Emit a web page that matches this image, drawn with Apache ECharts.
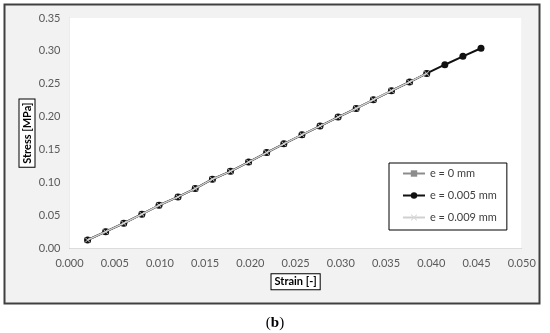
<!DOCTYPE html>
<html><head><meta charset="utf-8">
<script src="https://cdn.jsdelivr.net/npm/echarts@6/dist/echarts.min.js"></script>
<style>html,body{margin:0;padding:0;background:#fff}#c{width:550px;height:333px}</style>
</head><body><div id="c"></div>
<script>
var strain = [0.0020,0.0040,0.0060,0.0080,0.0099,0.0120,0.0139,0.0158,0.0178,0.0198,0.0218,0.0237,0.0257,0.0277,0.0297,0.0317,0.0336,0.0356,0.0376,0.0395,0.0415,0.0435,0.0455];
var stressE0 = [0.0126,0.0253,0.0381,0.0518,0.0654,0.0781,0.0907,0.1050,0.1170,0.1310,0.1455,0.1588,0.1725,0.1857,0.1994,0.2125,0.2257,0.2394,0.2527,0.2658];
var stressE005 = [0.0126,0.0253,0.0381,0.0518,0.0654,0.0781,0.0907,0.1050,0.1170,0.1310,0.1455,0.1588,0.1725,0.1857,0.1994,0.2125,0.2257,0.2394,0.2527,0.2658,0.2790,0.2917,0.3040];
var stressE009 = [0.0126,0.0253,0.0381,0.0518,0.0654,0.0781,0.0907,0.1050,0.1170,0.1310,0.1455,0.1588,0.1725,0.1857,0.1994,0.2125,0.2257,0.2394,0.2527,0.2658];
var seriesNames = ['e = 0 mm','e = 0.005 mm','e = 0.009 mm'];
var xTicks = {min:0, max:0.05, interval:0.005};
var yTicks = {min:0, max:0.35, interval:0.05};

function pairs(xs, ys){ return ys.map(function(v,i){ return [xs[i], v]; }); }
var FONT = 'Lato';
var chart = echarts.init(document.getElementById('c'));
chart.setOption({
  backgroundColor:'#ffffff',
  animation:false,
  graphic:[
    {type:'rect', z:-10, shape:{x:4.5,y:4.5,width:535,height:299}, style:{fill:'#f2f2f2',stroke:'#404040',lineWidth:2}},
    {type:'text', left:'center', top:316, style:{text:'{a|(}{b|b}{a|)}', rich:{a:{fontFamily:'Liberation Serif',fontSize:15,fill:'#000'},b:{fontFamily:'Liberation Serif',fontSize:15,fontWeight:'bold',fill:'#000'}}}}
  ],
  grid:{left:69.5,right:28.3,top:18,bottom:84.7,show:true,backgroundColor:'#ffffff',borderWidth:0,z:2},
  legend:{
    orient:'vertical', left:389, top:163,
    backgroundColor:'#ffffff', borderColor:'#000', borderWidth:1,
    padding:[5,10,7,13], itemGap:11, itemWidth:22, itemHeight:8,
    textStyle:{fontFamily:FONT,fontSize:11,color:'#404040'},
    data:seriesNames
  },
  xAxis:{
    type:'value', min:xTicks.min, max:xTicks.max, interval:xTicks.interval,
    name:'Strain [-]', nameLocation:'middle', nameGap:26, nameMoveOverlap:false,
    nameTextStyle:{fontFamily:FONT,fontSize:11,fontWeight:'bold',color:'#000',borderColor:'#000',borderWidth:1,padding:[2,3,2,3],backgroundColor:'#fff'},
    axisLine:{show:true,lineStyle:{color:'#d0d0d0',width:1}},
    axisTick:{show:false},
    axisLabel:{fontFamily:FONT,fontSize:11,color:'#595959',margin:10,formatter:function(v){return v.toFixed(3);}},
    splitLine:{show:true,lineStyle:{color:'#d9d9d9',width:1}}
  },
  yAxis:{
    type:'value', min:yTicks.min, max:yTicks.max, interval:yTicks.interval,
    name:'Stress [MPa]', nameLocation:'middle', nameGap:35, nameRotate:90, nameMoveOverlap:false,
    nameTextStyle:{fontFamily:FONT,fontSize:11,fontWeight:'bold',color:'#000',borderColor:'#000',borderWidth:1,padding:[2,3,2,3],backgroundColor:'#fff'},
    axisLine:{show:true,lineStyle:{color:'#d9d9d9',width:1}},
    axisTick:{show:false},
    axisLabel:{fontFamily:FONT,fontSize:11,color:'#595959',margin:9,formatter:function(v){return v.toFixed(2);}},
    splitLine:{show:true,lineStyle:{color:'#d9d9d9',width:1}}
  },
  series:[
    {name:seriesNames[0], type:'line', z:3, data:pairs(strain, stressE0), symbol:'rect', symbolSize:6, showAllSymbol:true,
     lineStyle:{color:'#8c8c8c',width:1.5}, itemStyle:{color:'#8c8c8c'}},
    {name:seriesNames[1], type:'line', z:4, data:pairs(strain, stressE005), symbol:'circle', symbolSize:7, showAllSymbol:true,
     lineStyle:{color:'#111',width:2}, itemStyle:{color:'#111'}},
    {name:seriesNames[2], type:'line', z:5, data:pairs(strain, stressE009), symbol:'path://M0,1L1,0L5,4L9,0L10,1L6,5L10,9L9,10L5,6L1,10L0,9L4,5Z', symbolSize:5, showAllSymbol:true,
     lineStyle:{color:'#d0d0d0',width:1.5}, itemStyle:{color:'#d9d9d9'}}
  ]
});
</script></body></html>
